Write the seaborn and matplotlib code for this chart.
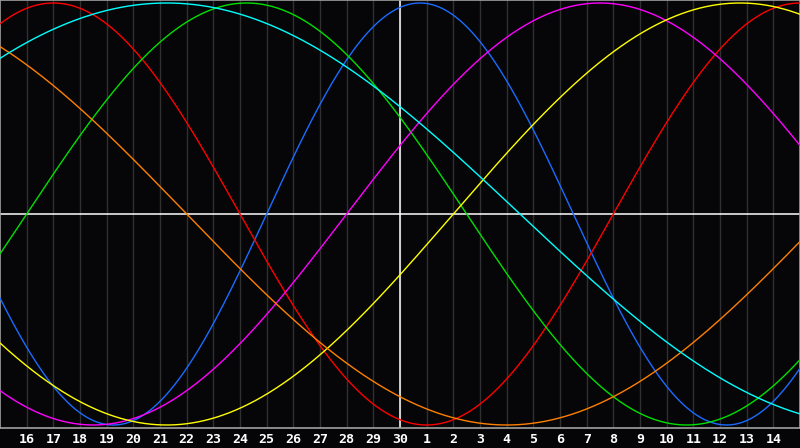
import numpy as np
import pandas as pd
import matplotlib
matplotlib.use("Agg")
import matplotlib.pyplot as plt
import seaborn as sns

# ---- data ----
tick_labels = ["16", "17", "18", "19", "20", "21", "22", "23", "24", "25", "26", "27", "28", "29", "30",
               "1", "2", "3", "4", "5", "6", "7", "8", "9", "10", "11", "12", "13", "14"]
cycle_names = ["Physical", "Emotional", "Intellectual", "Intuitive", "Aesthetic", "Awareness", "Spiritual"]
cycle_periods = [23, 28, 33, 38, 43, 48, 53]          # days
cycle_colors = ["#1a6cff", "#ff0000", "#00e000", "#ff00ff", "#ffff00", "#ff8000", "#00ffff"]
days_alive_at_left_edge = 15377                      # day count at the left edge (day 15)
span_days = 30
today_offset = 15                                    # day 30 is "today"

# ---- build table ----
u = np.linspace(0, span_days, 1201)
rows = []
for name, period in zip(cycle_names, cycle_periods):
    vals = np.sin(2 * np.pi * (u + days_alive_at_left_edge) / period)
    rows.append(pd.DataFrame({"day": u, "value": vals, "cycle": name}))
df = pd.concat(rows, ignore_index=True)

sns.set_theme(style="dark")
plt.rcParams["font.family"] = ["DejaVu Sans Mono", "DejaVu Sans"]

W, H = 800, 448
axes_h = 428
fig = plt.figure(figsize=(W / 100, H / 100), dpi=100)
fig.patch.set_facecolor("#050508")
ax = fig.add_axes([0, (H - axes_h) / H, 1, axes_h / H])
ax.set_facecolor("#060609")

# grid lines
for d in range(1, span_days):
    ax.axvline(d, color="#303030", lw=1.0, zorder=1)
ax.axhline(0, color="white", lw=1.1, zorder=2)
ax.axvline(today_offset, color="white", lw=1.1, zorder=2)

sns.lineplot(data=df, x="day", y="value", hue="cycle", hue_order=cycle_names,
             palette=cycle_colors, linewidth=1.0, legend=False, ax=ax, zorder=3,
             estimator=None, sort=False)

ax.set_xlim(0, span_days)
lim = 214 / 211
ax.set_ylim(-lim, lim)
ax.set_xticks(range(1, span_days))
ax.set_xticklabels(tick_labels)
ax.set_yticks([])
ax.set_xlabel("")
ax.set_ylabel("")
ax.tick_params(axis="x", length=0, pad=3.5, colors="white", labelsize=9.5)
for lbl in ax.get_xticklabels():
    lbl.set_fontweight("bold")
for s in ax.spines.values():
    s.set_visible(True)
    s.set_color("#a0a0a0")
    s.set_linewidth(1.2)
ax.grid(False)

fig.savefig("out.png", dpi=100, facecolor=fig.get_facecolor())
